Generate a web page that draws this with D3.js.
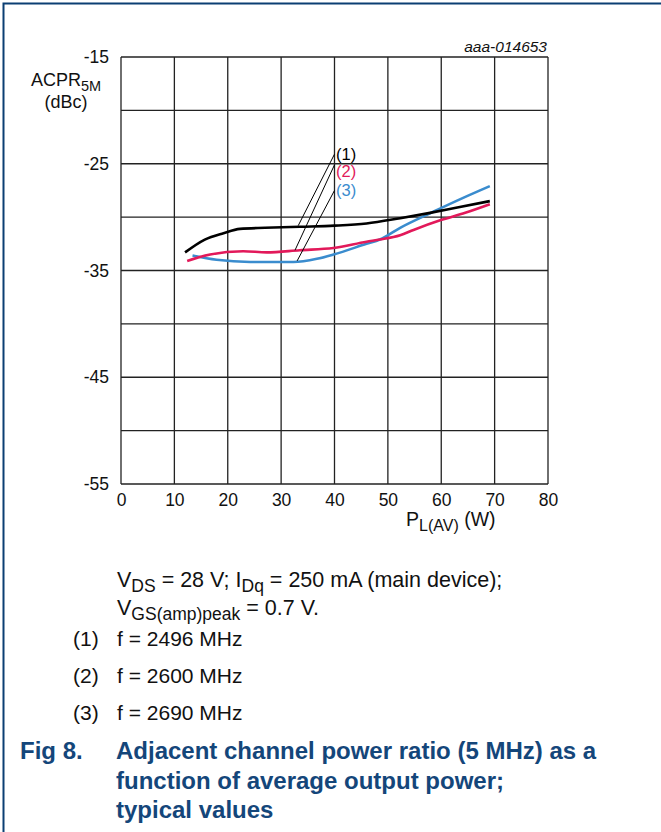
<!DOCTYPE html>
<html>
<head>
<meta charset="utf-8">
<script src="https://cdn.jsdelivr.net/npm/d3@7"></script>
<style>
  body { margin: 0; background: #fff; }
  svg { display: block; font-family: "Liberation Sans", Arial, sans-serif; }
</style>
</head>
<body>
<div id="chart"></div>
<script>
// axis ticks
const xTicks = [0, 10, 20, 30, 40, 50, 60, 70, 80];
const yGrid = [-55, -50, -45, -40, -35, -30, -25, -20, -15];
const yLabels = [-55, -45, -35, -25, -15];

// (1) f = 2496 MHz
const x1 = [12, 15.7, 19.2, 22.3, 27, 33.5, 40, 46, 52.3, 57.9, 63, 69.1];
const y1 = [-33.3, -32.1, -31.5, -31.1, -31.0, -30.9, -30.8, -30.6, -30.1, -29.6, -29.1, -28.5];
// (2) f = 2600 MHz
const x2 = [12.4, 16.7, 22.9, 27.3, 33.5, 39.8, 46, 48.5, 52.3, 54.8, 59.8, 64.5, 69.1];
const y2 = [-34.1, -33.5, -33.2, -33.3, -33.1, -32.9, -32.3, -32.1, -31.7, -31.2, -30.3, -29.6, -28.8];
// (3) f = 2690 MHz
const x3 = [13.4, 17.9, 24.2, 32.3, 36.7, 39.8, 46, 48.5, 52.3, 58.5, 64.1, 69.1];
const y3 = [-33.6, -34.0, -34.2, -34.2, -33.9, -33.5, -32.5, -32.1, -31.0, -29.5, -28.2, -27.1];

const seriesNames = ['(1)', '(2)', '(3)'];
const seriesColors = ['#000000', '#e2195a', '#3a8cce'];
// leader lines: label end -> curve end
const leaderTop = [[40.0, -24.1], [40.0, -25.1], [40.0, -27.5]];
const leaderBottom = [[33.2, -30.8], [32.6, -33.1], [33.0, -34.1]];

const notes = ['f = 2496 MHz', 'f = 2600 MHz', 'f = 2690 MHz'];
const captionLines = ['Adjacent channel power ratio (5 MHz) as a', 'function of average output power;', 'typical values'];

const W = 661, H = 832;
const svg = d3.select('#chart').append('svg').attr('width', W).attr('height', H);

// frame (top + left)
svg.append('path').attr('d', 'M3.5,832 L3.5,3.5 L661,3.5')
  .attr('fill', 'none').attr('stroke', '#0b3f73').attr('stroke-width', 2);

let x = d3.scaleLinear().domain([0, 80]).range([121, 548]);
let y = d3.scaleLinear().domain([-55, -15]).range([484, 57]);

let grid = svg.append('g').attr('class', 'grid');
grid.selectAll('.vline').data(xTicks).enter().append('line')
  .attr('x1', d => x(d)).attr('x2', d => x(d)).attr('y1', y(-55)).attr('y2', y(-15))
  .attr('stroke', '#222').attr('stroke-width', 1.3);
grid.selectAll('.hline').data(yGrid).enter().append('line')
  .attr('y1', d => y(d)).attr('y2', d => y(d)).attr('x1', x(0)).attr('x2', x(80))
  .attr('stroke', '#222').attr('stroke-width', 1.3);

let xAxis = svg.append('g').attr('transform', 'translate(0,' + y(-55) + ')')
  .call(d3.axisBottom(x).tickValues(xTicks).tickSize(0).tickPadding(10).tickFormat(d => String(d)));
xAxis.select('.domain').remove();
xAxis.selectAll('text').attr('font-size', 17.5).attr('fill', '#111').attr('font-family', '"Liberation Sans", Arial, sans-serif');

let yAxis = svg.append('g').attr('transform', 'translate(' + x(0) + ',0)')
  .call(d3.axisLeft(y).tickValues(yLabels).tickSize(0).tickPadding(12).tickFormat(d => String(d)));
yAxis.select('.domain').remove();
yAxis.selectAll('text').attr('font-size', 17.5).attr('fill', '#111').attr('font-family', '"Liberation Sans", Arial, sans-serif');

// axis titles
let yt = svg.append('text').attr('x', 31).attr('y', 86).attr('font-size', 18).attr('fill', '#111');
yt.append('tspan').text('ACPR');
yt.append('tspan').text('5M').attr('font-size', 14.5).attr('dy', 5);
svg.append('text').attr('x', 66).attr('y', 108).attr('text-anchor', 'middle')
  .attr('font-size', 18).attr('fill', '#111').text('(dBc)');

let xt = svg.append('text').attr('x', 406).attr('y', 526).attr('font-size', 19.5).attr('fill', '#111');
xt.append('tspan').text('P');
xt.append('tspan').text('L(AV)').attr('font-size', 16).attr('dy', 5);
xt.append('tspan').text(' (W)').attr('dy', -5);

svg.append('text').attr('x', 547).attr('y', 52).attr('text-anchor', 'end')
  .attr('font-size', 15.5).attr('font-style', 'italic').attr('fill', '#111').text('aaa-014653');

// curves
let line = d3.line().x(d => x(d[0])).y(d => y(d[1])).curve(d3.curveMonotoneX);
let curves = [d3.zip(x1, y1), d3.zip(x2, y2), d3.zip(x3, y3)];
// draw 3, 2, 1 so black ends on top
svg.append('g').selectAll('path').data(curves.map((c, i) => [c, i]).reverse()).enter().append('path')
  .attr('d', d => line(d[0]))
  .attr('fill', 'none').attr('stroke', d => seriesColors[d[1]]).attr('stroke-width', 2.6);

// leader lines + labels
let lead = svg.append('g');
lead.selectAll('line').data(seriesNames).enter().append('line')
  .attr('x1', (d, i) => x(leaderTop[i][0])).attr('y1', (d, i) => y(leaderTop[i][1]))
  .attr('x2', (d, i) => x(leaderBottom[i][0])).attr('y2', (d, i) => y(leaderBottom[i][1]))
  .attr('stroke', '#000').attr('stroke-width', 1);
lead.selectAll('text').data(seriesNames).enter().append('text')
  .attr('x', 336).attr('y', (d, i) => [160, 177, 196][i])
  .attr('font-size', 16.5).attr('fill', (d, i) => seriesColors[i]).text(d => d);

// conditions text
let c1 = svg.append('text').attr('x', 117).attr('y', 587).attr('font-size', 21.5).attr('fill', '#111');
c1.append('tspan').text('V');
c1.append('tspan').text('DS').attr('font-size', 17.5).attr('dy', 5);
c1.append('tspan').text(' = 28 V; I').attr('dy', -5);
c1.append('tspan').text('Dq').attr('font-size', 17.5).attr('dy', 5);
c1.append('tspan').text(' = 250 mA (main device);').attr('dy', -5);

let c2 = svg.append('text').attr('x', 117).attr('y', 615).attr('font-size', 21.5).attr('fill', '#111');
c2.append('tspan').text('V');
c2.append('tspan').text('GS(amp)peak').attr('font-size', 17.5).attr('dy', 5);
c2.append('tspan').text(' = 0.7 V.').attr('dy', -5);

let noteG = svg.append('g').attr('font-size', 21).attr('fill', '#111');
noteG.selectAll('.num').data(seriesNames).enter().append('text')
  .attr('x', 73).attr('y', (d, i) => 646 + i * 37).text(d => d);
noteG.selectAll('.txt').data(notes).enter().append('text')
  .attr('x', 117).attr('y', (d, i) => 646 + i * 37).text(d => d);

// caption
let cap = svg.append('g').attr('font-size', 24).attr('font-weight', 'bold').attr('fill', '#14467a');
cap.append('text').attr('x', 20).attr('y', 759).text('Fig 8.');
cap.selectAll('.cl').data(captionLines).enter().append('text')
  .attr('x', 116).attr('y', (d, i) => 759 + i * 29.5).text(d => d);
</script>
</body>
</html>
